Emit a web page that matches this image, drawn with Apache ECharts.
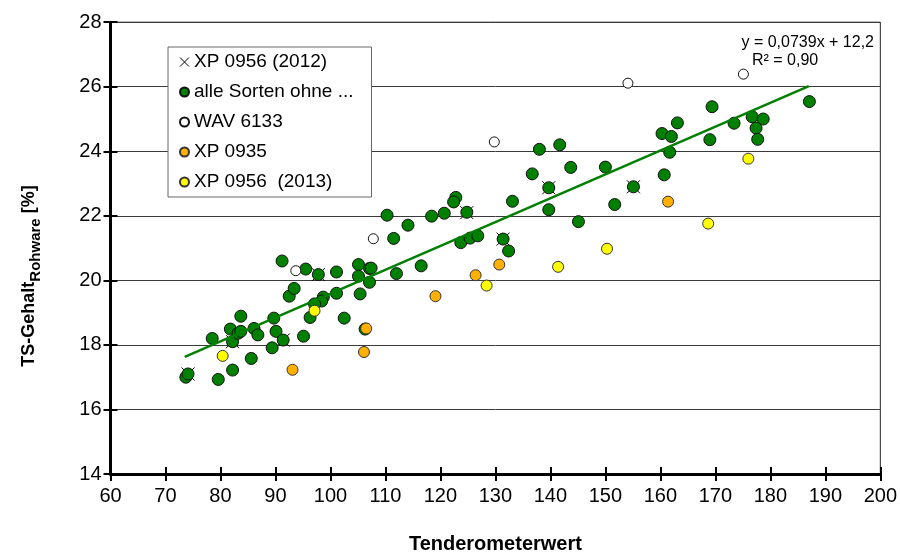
<!DOCTYPE html>
<html>
<head>
<meta charset="utf-8">
<script src="https://cdn.jsdelivr.net/npm/echarts@6/dist/echarts.min.js"></script>
<style>
  html, body { margin: 0; padding: 0; background: #fff; }
  #chart { width: 900px; height: 559px; }
</style>
</head>
<body>
<div id="chart"></div>
<script>
// Tenderometer reading vs. dry matter content of raw product
const xpTicks = [60, 70, 80, 90, 100, 110, 120, 130, 140, 150, 160, 170, 180, 190, 200];
const yTicks = [14, 16, 18, 20, 22, 24, 26, 28];

// XP 0956 (2012)
const xp0956_2012 = [
  [74.1, 17.1], [82.2, 18.1], [91.4, 18.15], [97.8, 20.18],
  [124.8, 22.1], [131.4, 21.28], [139.7, 22.87], [155.1, 22.9]
];

// alle Sorten ohne ...
const alleSorten = [
  [73.7, 17.0], [74.1, 17.1], [79.6, 16.93], [82.2, 17.22], [83.7, 18.89],
  [78.5, 18.2], [81.8, 18.49], [82.2, 18.1], [83.2, 18.36], [83.7, 18.42],
  [85.6, 17.58], [86.1, 18.51], [86.8, 18.31], [89.7, 18.83], [90.1, 18.42],
  [89.4, 17.91], [91.4, 18.15], [95.1, 18.27], [92.5, 19.51], [93.4, 19.75],
  [96.3, 18.85], [110.3, 22.02], [118.4, 21.99], [120.7, 22.08], [122.8, 22.57],
  [122.4, 22.43], [124.8, 22.11], [133.1, 22.45], [114.1, 21.71], [111.5, 21.3],
  [123.7, 21.17], [125.4, 21.31], [126.8, 21.38], [131.4, 21.28], [132.4, 20.91],
  [91.2, 20.6], [95.5, 20.35], [97.8, 20.18], [101.1, 20.26], [105.1, 20.49],
  [105.1, 20.13], [107.1, 20.37], [107.4, 20.38], [107.1, 19.94], [112.0, 20.21],
  [116.5, 20.45], [98.7, 19.48], [98.4, 19.36], [97.1, 19.27], [101.1, 19.6],
  [105.4, 19.58], [102.5, 18.83], [106.3, 18.49], [187.1, 25.54], [169.4, 25.38],
  [163.1, 24.88], [173.4, 24.87], [176.7, 25.07], [178.7, 25.0], [177.4, 24.72],
  [177.7, 24.37], [160.3, 24.55], [162.0, 24.46], [169.0, 24.36], [161.7, 23.97],
  [138.0, 24.06], [141.7, 24.2], [136.7, 23.3], [143.7, 23.5], [150.0, 23.51],
  [160.7, 23.27], [139.7, 22.87], [155.1, 22.9], [139.7, 22.19], [151.7, 22.35],
  [145.1, 21.82]
];

// WAV 6133
const wav6133 = [
  [93.7, 20.3], [107.8, 21.29], [129.8, 24.29], [154.1, 26.11], [175.1, 26.39]
];

// XP 0935
const xp0935 = [
  [93.1, 17.23], [106.5, 18.51], [106.1, 17.78], [119.1, 19.51],
  [126.4, 20.16], [130.7, 20.49], [161.4, 22.44]
];

// XP 0956 (2013)
const xp0956_2013 = [
  [80.4, 17.66], [97.1, 19.06], [128.4, 19.84], [141.4, 20.42],
  [150.3, 20.98], [168.7, 21.76], [176.0, 23.77]
];

// linear trend over all points: y = 0,0739x + 12,2
const trendSlope = 0.0739;
const trendIntercept = 12.2;
const trendRange = [73.5, 187];

const FONT = '"Liberation Sans", Arial, sans-serif';
const crossPath = 'path://M0,0L10,10M10,0L0,10';

const chart = echarts.init(document.getElementById('chart'), null, { renderer: 'canvas' });

const baseX = {
  type: 'value', min: 60, max: 200, interval: 10,
  splitLine: { show: false }
};
const baseY = {
  type: 'value', min: 14, max: 28, interval: 2
};

chart.setOption({
  animation: false,
  backgroundColor: '#fff',
  textStyle: { fontFamily: FONT },
  grid: {
    left: 110.5, right: 19.3, top: 22.2, bottom: 84,
    show: true, borderColor: '#222', borderWidth: 1, backgroundColor: 'transparent'
  },
  xAxis: [
    Object.assign({}, baseX, {
      name: 'Tenderometerwert',
      nameLocation: 'middle', nameGap: 60,
      nameTextStyle: { fontFamily: FONT, fontSize: 20, fontWeight: 'bold', color: '#000' },
      axisLine: { show: true, lineStyle: { color: '#000', width: 3 } },
      axisTick: { show: true, inside: false, length: 7, lineStyle: { color: '#000', width: 2 } },
      axisLabel: { fontFamily: FONT, fontSize: 20, color: '#000', margin: 12,
        formatter: v => xpTicks.includes(v) ? String(v) : '' }
    }),
    Object.assign({}, baseX, {
      position: 'bottom',
      axisLine: { show: false },
      axisTick: { show: true, inside: true, length: 7, lineStyle: { color: '#000', width: 2 } },
      axisLabel: { show: false }
    })
  ],
  yAxis: [
    Object.assign({}, baseY, {
      axisLine: { show: true, lineStyle: { color: '#000', width: 3 } },
      axisTick: { show: true, inside: false, length: 7, lineStyle: { color: '#000', width: 2 } },
      axisLabel: { fontFamily: FONT, fontSize: 20, color: '#000', margin: 9,
        formatter: v => yTicks.includes(v) ? String(v) : '' },
      splitLine: { show: true, lineStyle: { color: '#3a3a3a', width: 1 } }
    }),
    Object.assign({}, baseY, {
      position: 'left',
      axisLine: { show: false },
      axisTick: { show: true, inside: true, length: 7, lineStyle: { color: '#000', width: 2 } },
      axisLabel: { show: false },
      splitLine: { show: false }
    })
  ],
  legend: {
    orient: 'vertical',
    left: 168, top: 47,
    padding: [5, 18, 5, 11],
    itemGap: 10,
    itemWidth: 9, itemHeight: 9,
    backgroundColor: '#fff',
    borderColor: '#666', borderWidth: 1, borderRadius: 0,
    textStyle: { fontFamily: FONT, fontSize: 19, lineHeight: 20, color: '#000', padding: [0, 0, 0, 0] },
    data: [
      { name: 'XP 0956 (2012)', icon: crossPath, itemStyle: { color: 'transparent', borderColor: '#000', borderWidth: 1 } },
      { name: 'alle Sorten ohne ...', icon: 'circle' },
      { name: 'WAV 6133', icon: 'circle' },
      { name: 'XP 0935', icon: 'circle' },
      { name: 'XP 0956  (2013)', icon: 'circle' }
    ]
  },
  graphic: [
    {
      type: 'text', right: 26, top: 35,
      style: { text: 'y = 0,0739x + 12,2', fontFamily: FONT, fontSize: 16, fill: '#000' }
    },
    {
      type: 'text', left: 752, top: 53,
      style: { text: 'R² = 0,90', fontFamily: FONT, fontSize: 16, fill: '#000' }
    },
    {
      type: 'text', x: 26, y: 276, rotation: Math.PI / 2,
      style: {
        text: '{a|TS-Gehalt}{b|Rohware}{a| [%]}',
        align: 'center', verticalAlign: 'middle',
        rich: {
          a: { fontFamily: FONT, fontSize: 18, fontWeight: 'bold', fill: '#000', lineHeight: 24, verticalAlign: 'bottom' },
          b: { fontFamily: FONT, fontSize: 15, fontWeight: 'bold', fill: '#000', lineHeight: 24, verticalAlign: 'bottom', padding: [0, 0, -5, 0] }
        }
      }
    }
  ],
  series: [
    {
      name: 'XP 0956 (2012)', type: 'scatter', z: 2,
      symbol: crossPath, symbolSize: 13,
      itemStyle: { color: 'transparent', borderColor: '#000', borderWidth: 1, opacity: 1 },
      data: xp0956_2012
    },
    {
      name: 'alle Sorten ohne ...', type: 'scatter', z: 3,
      symbol: 'circle', symbolSize: 12,
      itemStyle: { color: '#008000', borderColor: '#111', borderWidth: 1, opacity: 1 },
      data: alleSorten
    },
    {
      name: 'WAV 6133', type: 'scatter', z: 3,
      symbol: 'circle', symbolSize: 10,
      itemStyle: { color: '#fff', borderColor: '#111', borderWidth: 1, opacity: 1 },
      data: wav6133
    },
    {
      name: 'XP 0935', type: 'scatter', z: 4,
      symbol: 'circle', symbolSize: 11,
      itemStyle: { color: '#FFB000', borderColor: '#333', borderWidth: 1, opacity: 1 },
      data: xp0935
    },
    {
      name: 'XP 0956  (2013)', type: 'scatter', z: 4,
      symbol: 'circle', symbolSize: 11,
      itemStyle: { color: '#FFFF00', borderColor: '#333', borderWidth: 1, opacity: 1 },
      data: xp0956_2013
    },
    {
      name: 'Trend', type: 'line', z: 5,
      showSymbol: false, symbol: 'none', silent: true,
      lineStyle: { color: '#008000', width: 2.5 },
      data: trendRange.map(x => [x, trendSlope * x + trendIntercept])
    }
  ]
});
</script>
</body>
</html>
